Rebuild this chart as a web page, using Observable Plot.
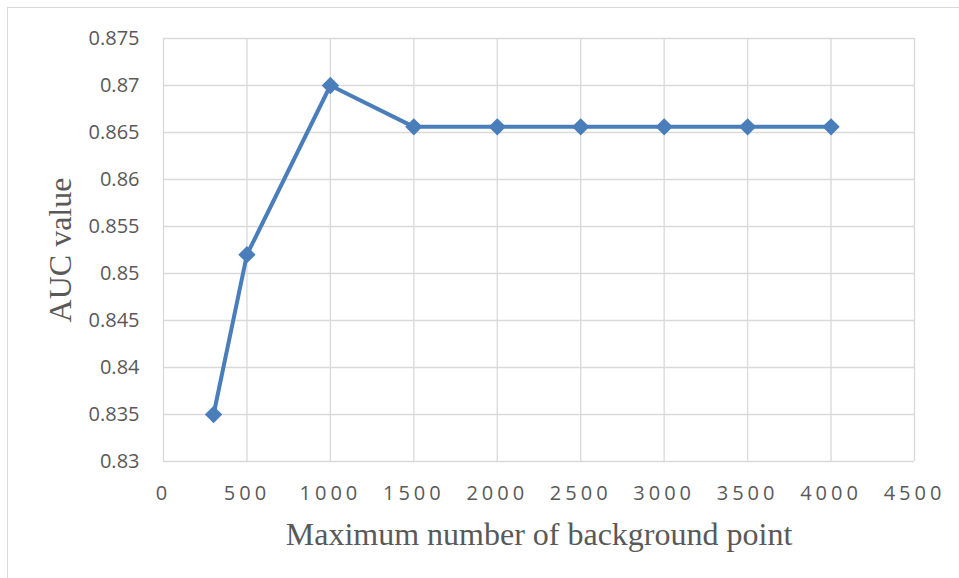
<!DOCTYPE html>
<html>
<head>
<meta charset="utf-8">
<script src="https://cdn.jsdelivr.net/npm/d3@7"></script>
<script src="https://cdn.jsdelivr.net/npm/@observablehq/plot@0.6"></script>
<style>
  html, body { margin: 0; padding: 0; background: #fff; }
  #wrap { position: relative; width: 959px; height: 578px; overflow: hidden; }
  #edge { position: absolute; left: 7px; top: 7px; right: -10px; bottom: -10px;
          border-left: 1.5px solid #d9d9d9; border-top: 1.5px solid #d9d9d9; pointer-events: none; }
  .auc g[aria-label="x-axis tick label"] text { letter-spacing: 4px; }
</style>
</head>
<body>
<div id="wrap"><div id="edge"></div></div>
<script>
// Maximum number of background points vs. resulting AUC
const maxPoints = [300, 500, 1000, 1500, 2000, 2500, 3000, 3500, 4000];
const aucValues = [0.835, 0.852, 0.870, 0.8656, 0.8656, 0.8656, 0.8656, 0.8656, 0.8656];

const xTicks = [0, 500, 1000, 1500, 2000, 2500, 3000, 3500, 4000, 4500];
const yTicks = [0.83, 0.835, 0.84, 0.845, 0.85, 0.855, 0.86, 0.865, 0.87, 0.875];

const xLabel = "Maximum number of background point";
const yLabel = "AUC value";

const data = maxPoints.map((x, i) => ({x, y: aucValues[i]}));

const lineColor = "#4a7ebb";
const gridColor = "#d9d9d9";
const textColor = "#595959";
const tickFont = "'Open Sans', sans-serif";
const labelFont = "'Liberation Serif', 'Times New Roman', serif";

const chart = Plot.plot({
  width: 959,
  height: 578,
  marginLeft: 163,
  marginRight: 45,
  marginTop: 38,
  marginBottom: 117,
  className: "auc",
  style: {background: "transparent", color: textColor},
  x: {domain: [0, 4500]},
  y: {domain: [0.83, 0.875]},
  marks: [
    Plot.gridX(xTicks, {stroke: gridColor, strokeOpacity: 1, strokeWidth: 1.3}),
    Plot.gridY(yTicks, {stroke: gridColor, strokeOpacity: 1, strokeWidth: 1.3}),
    Plot.axisX({ticks: xTicks, tickSize: 0, tickPadding: 24, label: null,
                tickFormat: d => String(d), fontSize: 20, fontFamily: tickFont, fill: textColor}),
    Plot.axisY({ticks: yTicks, tickSize: 0, tickPadding: 24, label: null,
                tickFormat: d => String(d), fontSize: 20, fontFamily: tickFont, fill: textColor}),
    Plot.line(data, {x: "x", y: "y", stroke: lineColor, strokeWidth: 4, strokeLinejoin: "round"}),
    Plot.dot(data, {x: "x", y: "y", symbol: "diamond2", r: 7.8, fill: lineColor, stroke: "none"}),
    Plot.text([xLabel], {frameAnchor: "bottom", dy: 73, text: d => d,
                         textAnchor: "middle", lineAnchor: "middle",
                         fontSize: 32, fontFamily: labelFont, fill: textColor}),
    Plot.text([yLabel], {frameAnchor: "left", dx: -103, rotate: -90, text: d => d,
                         textAnchor: "middle", lineAnchor: "middle",
                         fontSize: 32, fontFamily: labelFont, fill: textColor})
  ]
});

document.getElementById("wrap").prepend(chart);
</script>
</body>
</html>
